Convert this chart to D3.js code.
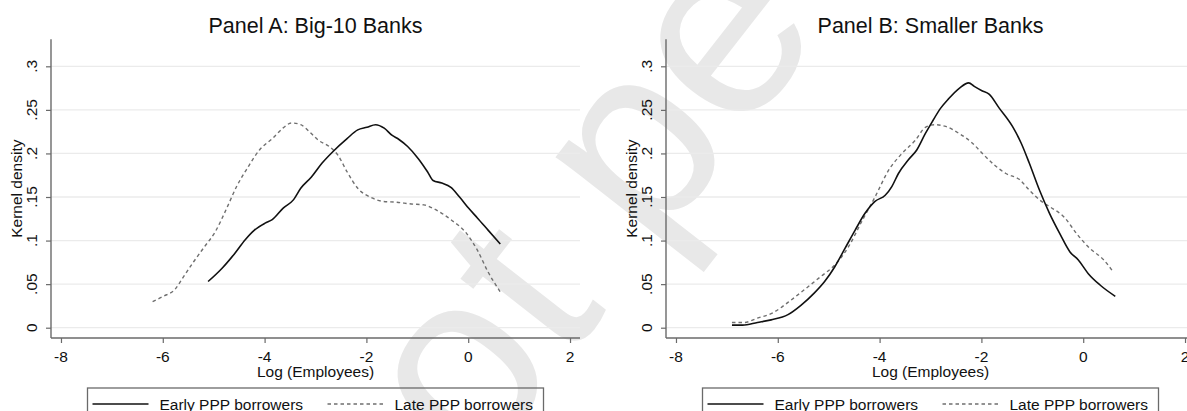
<!DOCTYPE html>
<html>
<head>
<meta charset="utf-8">
<script src="https://cdn.jsdelivr.net/npm/d3@7"></script>
<style>
  html, body { margin: 0; padding: 0; background: #fff; }
  svg { display: block; font-family: "Liberation Sans", Arial, sans-serif; }
</style>
</head>
<body>
<svg id="chart" width="1187" height="411"></svg>
<script>
// Kernel density of log(employees), early vs late PPP borrowers
const panelTitles = ["Panel A: Big-10 Banks", "Panel B: Smaller Banks"];
const seriesNames = ["Early PPP borrowers", "Late PPP borrowers"];
const xTicks = [-8, -6, -4, -2, 0, 2];
const yTicks = [0, 0.05, 0.1, 0.15, 0.2, 0.25, 0.3];
const yTickLabels = ["0", ".05", ".1", ".15", ".2", ".25", ".3"];
const xTitle = "Log (Employees)";
const yTitle = "Kernel density";
const watermarkText = "Preprint not peer reviewed";

// Panel A: Big-10 banks
const bigEarly = [
  [-5.11, 0.053], [-4.84, 0.068], [-4.59, 0.085], [-4.38, 0.101], [-4.20, 0.112],
  [-3.99, 0.120], [-3.85, 0.124], [-3.64, 0.137], [-3.43, 0.147], [-3.29, 0.160],
  [-3.08, 0.173], [-2.87, 0.189], [-2.66, 0.202], [-2.38, 0.217], [-2.17, 0.227],
  [-1.99, 0.230], [-1.82, 0.233], [-1.65, 0.229], [-1.50, 0.221], [-1.36, 0.216],
  [-1.19, 0.208], [-0.98, 0.194], [-0.80, 0.179], [-0.69, 0.169], [-0.52, 0.166],
  [-0.34, 0.161], [-0.17, 0.150], [0.01, 0.137], [0.18, 0.126], [0.39, 0.112],
  [0.63, 0.096]
];
const bigLate = [
  [-6.20, 0.030], [-5.99, 0.036], [-5.76, 0.044], [-5.61, 0.057], [-5.39, 0.076],
  [-5.18, 0.093], [-4.97, 0.110], [-4.76, 0.135], [-4.55, 0.162], [-4.34, 0.183],
  [-4.10, 0.204], [-3.85, 0.217], [-3.64, 0.229], [-3.47, 0.235], [-3.29, 0.233],
  [-3.12, 0.225], [-2.94, 0.215], [-2.73, 0.208], [-2.56, 0.198], [-2.38, 0.179],
  [-2.17, 0.160], [-1.89, 0.149], [-1.68, 0.145], [-1.40, 0.144], [-1.12, 0.142],
  [-0.87, 0.141], [-0.66, 0.136], [-0.34, 0.124], [-0.03, 0.108], [0.18, 0.089],
  [0.39, 0.064], [0.63, 0.041]
];

// Panel B: smaller banks
const smallEarly = [
  [-6.90, 0.003], [-6.69, 0.003], [-6.40, 0.006], [-6.13, 0.009], [-5.80, 0.015],
  [-5.54, 0.026], [-5.28, 0.040], [-5.08, 0.053], [-4.88, 0.070], [-4.68, 0.091],
  [-4.48, 0.112], [-4.29, 0.131], [-4.09, 0.145], [-3.89, 0.152], [-3.76, 0.162],
  [-3.63, 0.177], [-3.43, 0.193], [-3.27, 0.204], [-3.10, 0.223], [-2.97, 0.236],
  [-2.80, 0.252], [-2.64, 0.263], [-2.43, 0.275], [-2.25, 0.281], [-2.14, 0.277],
  [-1.99, 0.272], [-1.85, 0.268], [-1.65, 0.252], [-1.39, 0.231], [-1.22, 0.212],
  [-1.06, 0.189], [-0.86, 0.158], [-0.66, 0.131], [-0.46, 0.108], [-0.26, 0.087],
  [-0.10, 0.078], [0.10, 0.062], [0.33, 0.049], [0.63, 0.036]
];
const smallLate = [
  [-6.90, 0.006], [-6.66, 0.006], [-6.40, 0.011], [-6.10, 0.017], [-5.80, 0.029],
  [-5.47, 0.044], [-5.15, 0.059], [-4.88, 0.072], [-4.61, 0.093], [-4.35, 0.122],
  [-4.09, 0.150], [-3.82, 0.181], [-3.56, 0.200], [-3.30, 0.215], [-3.10, 0.230],
  [-2.93, 0.233], [-2.70, 0.231], [-2.44, 0.223], [-2.18, 0.212], [-1.98, 0.200],
  [-1.75, 0.187], [-1.52, 0.177], [-1.25, 0.170], [-1.06, 0.158], [-0.82, 0.145],
  [-0.66, 0.139], [-0.36, 0.126], [-0.13, 0.108], [0.13, 0.091], [0.40, 0.078],
  [0.59, 0.064]
];

const panels = [
  { title: panelTitles[0], early: bigEarly, late: bigLate, left: 51 },
  { title: panelTitles[1], early: smallEarly, late: smallLate, left: 666 }
];

const svg = d3.select("#chart");
const W = 529, TOP = 39.3, BOTTOM = 338;
const AXIS = "#6a6a6a", GRID = "#ebebeb", FS = 15.5;

// faint diagonal watermark behind everything
const WM_SIZE = 255;
const wm = svg.append("g").attr("transform", "translate(648,150) rotate(-52)");
const wmText = wm.append("text")
  .attr("fill", "#e8e8e8")
  .attr("font-size", WM_SIZE)
  .attr("y", 0.26 * WM_SIZE)
  .text(watermarkText);
{
  // put the bowl of the "p" in "peer" on the group origin
  const node = wmText.node();
  const idx = watermarkText.indexOf("peer");
  const pre = node.getSubStringLength(0, idx);
  wmText.attr("x", -(pre + 0.31 * WM_SIZE));
}

panels.forEach(p => {
  const x = d3.scaleLinear().domain([-8.196, 2.196]).range([p.left, p.left + W]);
  const y = d3.scaleLinear().domain([-0.01182, 0.331]).range([BOTTOM, TOP]);
  const g = svg.append("g");
  const cx = p.left + W / 2;

  // horizontal grid
  g.append("g").selectAll("line").data(yTicks).join("line")
    .attr("x1", p.left).attr("x2", p.left + W)
    .attr("y1", d => y(d)).attr("y2", d => y(d))
    .attr("stroke", GRID).attr("stroke-width", 1.3);

  // y axis
  const ya = g.append("g").attr("transform", `translate(${p.left},0)`)
    .call(d3.axisLeft(y).tickValues(yTicks).tickSize(5).tickFormat(""));
  ya.select(".domain").attr("d", `M0,${TOP}V${BOTTOM}`).attr("stroke", AXIS).attr("stroke-width", 1.4);
  ya.selectAll(".tick line").attr("stroke", AXIS).attr("stroke-width", 1.2);
  g.append("g").selectAll("text").data(yTicks).join("text")
    .attr("transform", d => `translate(${p.left - 14},${y(d)}) rotate(-90)`)
    .attr("text-anchor", "middle").attr("font-size", FS).attr("fill", "#111")
    .text((d, i) => yTickLabels[i]);

  // x axis
  const xa = g.append("g").attr("transform", `translate(0,${BOTTOM})`)
    .call(d3.axisBottom(x).tickValues(xTicks).tickSize(5).tickFormat(""));
  xa.select(".domain").attr("d", `M${p.left},0H${p.left + W}`).attr("stroke", AXIS).attr("stroke-width", 1.4);
  xa.selectAll(".tick line").attr("stroke", AXIS).attr("stroke-width", 1.2);
  g.append("g").selectAll("text").data(xTicks).join("text")
    .attr("x", d => x(d)).attr("y", 361.5)
    .attr("text-anchor", "middle").attr("font-size", FS).attr("fill", "#111")
    .text(d => d3.format("")(d).replace("−", "-"));

  // axis titles
  g.append("text").attr("x", cx).attr("y", 377)
    .attr("text-anchor", "middle").attr("font-size", FS).attr("fill", "#111").text(xTitle);
  g.append("text")
    .attr("transform", `translate(${p.left - 29},${(TOP + BOTTOM) / 2}) rotate(-90)`)
    .attr("text-anchor", "middle").attr("font-size", FS).attr("fill", "#111").text(yTitle);

  // panel title
  g.append("text").attr("x", cx).attr("y", 33)
    .attr("text-anchor", "middle").attr("font-size", 21.5).attr("fill", "#111").text(p.title);

  // density curves
  const line = d3.line().x(d => x(d[0])).y(d => y(d[1])).curve(d3.curveMonotoneX);
  g.append("path").datum(p.late).attr("d", line)
    .attr("fill", "none").attr("stroke", "#6f6f6f").attr("stroke-width", 1.4)
    .attr("stroke-dasharray", "3.5,3");
  g.append("path").datum(p.early).attr("d", line)
    .attr("fill", "none").attr("stroke", "#111").attr("stroke-width", 1.6);

  // legend
  const lg = g.append("g");
  const bx = cx - 228;
  lg.append("rect").attr("x", bx).attr("y", 388).attr("width", 456).attr("height", 32)
    .attr("fill", "none").attr("stroke", AXIS).attr("stroke-width", 1.3);
  lg.append("line").attr("x1", bx + 5).attr("x2", bx + 61).attr("y1", 404).attr("y2", 404)
    .attr("stroke", "#111").attr("stroke-width", 1.6);
  lg.append("text").attr("x", bx + 72).attr("y", 409.5).attr("font-size", FS).attr("fill", "#111")
    .text(seriesNames[0]);
  lg.append("line").attr("x1", bx + 240).attr("x2", bx + 296).attr("y1", 404).attr("y2", 404)
    .attr("stroke", "#6f6f6f").attr("stroke-width", 1.4).attr("stroke-dasharray", "3.5,3");
  lg.append("text").attr("x", bx + 307).attr("y", 409.5).attr("font-size", FS).attr("fill", "#111")
    .text(seriesNames[1]);
});
</script>
</body>
</html>
